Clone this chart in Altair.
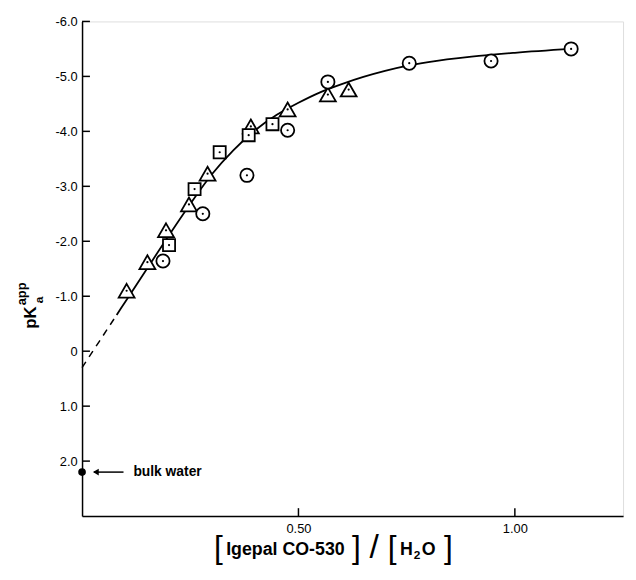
import altair as alt
import pandas as pd

# ---- data ----
tri_x = [0.103, 0.151, 0.194, 0.247, 0.290, 0.390, 0.475, 0.568, 0.616]
tri_y = [-1.10, -1.62, -2.20, -2.67, -3.23, -4.09, -4.40, -4.67, -4.76]
sq_x = [0.201, 0.260, 0.318, 0.385, 0.440]
sq_y = [-1.93, -2.95, -3.62, -3.93, -4.13]
cir_x = [0.187, 0.279, 0.381, 0.475, 0.568, 0.756, 0.945, 1.130]
cir_y = [-1.64, -2.50, -3.20, -4.02, -4.90, -5.24, -5.28, -5.50]

curve_x = [0.00, 0.04, 0.08, 0.10, 0.15, 0.20, 0.25, 0.30, 0.35, 0.40, 0.45,
           0.50, 0.55, 0.60, 0.65, 0.70, 0.75, 0.80, 0.90, 1.00, 1.13]
curve_y = [0.30, -0.18, -0.66, -0.90, -1.50, -2.10, -2.68, -3.22, -3.66, -4.02, -4.30,
           -4.52, -4.71, -4.86, -4.99, -5.10, -5.19, -5.26, -5.36, -5.43, -5.50]
dash_end = 0.08

y_ticks = [-6, -5, -4, -3, -2, -1, 0, 1, 2]
x_ticks = [0.5, 1.0]

bulk_x = [0.0]
bulk_y = [2.2]
bulk_label = "bulk water"

FONT = "Liberation Sans"

curve = pd.DataFrame({"x": curve_x, "y": curve_y})
solid_df = curve[curve.x >= dash_end]
dash_df = curve[curve.x <= dash_end]
tri = pd.DataFrame({"x": tri_x, "y": tri_y})
sq = pd.DataFrame({"x": sq_x, "y": sq_y})
cir = pd.DataFrame({"x": cir_x, "y": cir_y})
allpts = pd.concat([tri, sq, cir])

xs = alt.Scale(domain=[0, 1.25], nice=False, zero=False)
ys = alt.Scale(domain=[-6, 3], reverse=True, nice=False, zero=False)

X = alt.X("x:Q", scale=xs, axis=alt.Axis(
    values=x_ticks, format=".2f", title=None, ticks=False, grid=False,
    domainColor="black", domainWidth=1.5, labelFont=FONT, labelFontSize=13,
    labelColor="black", labelPadding=7))
Y = alt.Y("y:Q", scale=ys, axis=alt.Axis(
    values=y_ticks, title=None, ticks=False, grid=False,
    labelExpr="datum.value == 0 ? '0' : replace(format(datum.value, '.1f'), '\u2212', '-')",
    domainColor="black", domainWidth=1.5, labelFont=FONT, labelFontSize=13,
    labelColor="black", labelPadding=5))

base_x = alt.X("x:Q", scale=xs)
base_y = alt.Y("y:Q", scale=ys)

solid = alt.Chart(solid_df).mark_line(color="black", strokeWidth=1.8, interpolate="monotone").encode(x=X, y=Y)
dashed = alt.Chart(dash_df).mark_line(color="black", strokeWidth=1.5, strokeDash=[7, 6]).encode(x=base_x, y=base_y)

tri_shape = "M0,-0.78L0.9,0.78L-0.9,0.78Z"
p_tri = alt.Chart(tri).mark_point(shape=tri_shape, size=320, filled=True, fill="white",
                                  stroke="black", strokeWidth=1.8, opacity=1).encode(x=base_x, y=base_y)
p_sq = alt.Chart(sq).mark_point(shape="square", size=150, filled=True, fill="white",
                                stroke="black", strokeWidth=1.8, opacity=1).encode(x=base_x, y=base_y)
p_cir = alt.Chart(cir).mark_point(shape="circle", size=180, filled=True, fill="white",
                                  stroke="black", strokeWidth=1.8, opacity=1).encode(x=base_x, y=base_y)
dots = alt.Chart(allpts).mark_point(shape="circle", size=5, filled=True, color="black",
                                    opacity=1).encode(x=base_x, y=base_y)

yt = alt.Chart(pd.DataFrame({"y": y_ticks})).mark_rule(color="black", strokeWidth=1.5).encode(
    y=base_y, x=alt.value(0), x2=alt.value(8))
xt = alt.Chart(pd.DataFrame({"x": x_ticks})).mark_rule(color="black", strokeWidth=1.5).encode(
    x=base_x, y=alt.value(501), y2=alt.value(493))

bulk = pd.DataFrame({"x": bulk_x, "y": bulk_y, "t": [bulk_label]})
b_dot = alt.Chart(bulk).mark_point(shape="circle", size=60, filled=True, color="black", opacity=1).encode(
    x=base_x, y=base_y)
b_arrow = alt.Chart(bulk).mark_rule(color="black", strokeWidth=1.5).encode(
    y=base_y, x=alt.value(12), x2=alt.value(42))
b_head = alt.Chart(bulk).mark_point(shape="triangle-left", size=45, filled=True, color="black", opacity=1).encode(
    y=base_y, x=alt.value(14))
b_text = alt.Chart(bulk).mark_text(align="left", baseline="middle", font=FONT, fontSize=14,
                                   fontWeight="bold", color="black").encode(
    y=base_y, x=alt.value(52), text="t:N")

one = pd.DataFrame({"k": [0]})
def txt(s, x, y, size, weight="bold", angle=0, align="center"):
    return alt.Chart(one).mark_text(text=s, font=FONT, fontSize=size, fontWeight=weight,
                                    angle=angle, align=align, baseline="middle",
                                    color="black").encode(x=alt.value(x), y=alt.value(y))

ytitle = [
    txt("pK", -52, 300, 17, angle=270),
    txt("a", -44, 282, 12, angle=270),
    txt("app", -61, 276, 13, angle=270),
]
xtitle = [
    txt("[", 138, 533, 32, weight="normal"),
    txt("Igepal CO-530", 146, 535, 18, align="left"),
    txt("]", 278, 533, 32, weight="normal"),
    txt("/", 296, 533, 34, weight="normal"),
    txt("[", 314, 533, 32, weight="normal"),
    txt("H", 322, 535, 18, align="left"),
    txt("2", 336, 540, 12, align="left"),
    txt("O", 344, 535, 18, align="left"),
    txt("]", 371, 533, 32, weight="normal"),
]

chart = alt.layer(
    solid, dashed, p_tri, p_sq, p_cir, dots, yt, xt, b_dot, b_arrow, b_head, b_text,
    *ytitle, *xtitle
).properties(
    width=548, height=501,
    autosize=alt.AutoSizeParams(type="none"),
    padding={"left": 75, "top": 10, "right": 5, "bottom": 50},
).configure_view(stroke=None).configure(background="white")

chart.save("out.html", embed_options={"renderer": "svg", "actions": False})
